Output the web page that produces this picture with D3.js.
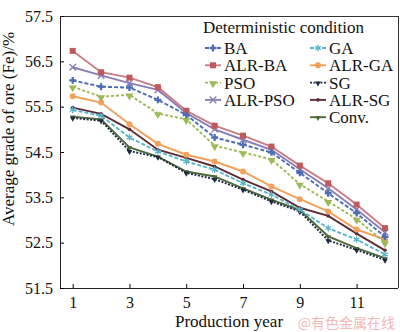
<!DOCTYPE html>
<html><head><meta charset="utf-8">
<script src="https://cdn.jsdelivr.net/npm/d3@7"></script>
<style>body{margin:0;background:#fff}svg{display:block;font-family:"Liberation Serif","Times New Roman",serif}</style>
</head><body>
<svg id="c" width="400" height="332"></svg>
<script>
const years = [1,2,3,4,5,6,7,8,9,10,11,12];
const xTicks = [1,3,5,7,9,11];
const yTicks = [51.5,52.5,53.5,54.5,55.5,56.5,57.5];
const BA     = [56.08,55.94,55.92,55.65,55.32,54.82,54.66,54.49,54.04,53.59,53.15,52.63];
const ALR_BA = [56.73,56.26,56.14,55.93,55.41,55.08,54.86,54.62,54.20,53.81,53.34,52.82];
const PSO    = [55.94,55.72,55.76,55.35,55.22,54.64,54.49,54.34,53.79,53.41,53.02,52.50];
const ALR_PSO= [56.37,56.19,56.02,55.87,55.36,55.00,54.77,54.55,54.12,53.70,53.23,52.73];
const GA     = [55.43,55.30,54.82,54.51,54.29,54.11,53.81,53.56,53.23,52.82,52.57,52.24];
const ALR_GA = [55.73,55.59,55.11,54.68,54.44,54.29,54.07,53.74,53.46,53.19,52.79,52.57];
const SG     = [55.25,55.19,54.52,54.39,54.04,53.90,53.67,53.41,53.19,52.55,52.34,52.12];
const ALR_SG = [55.48,55.34,55.00,54.55,54.37,54.18,53.89,53.63,53.27,53.09,52.70,52.33];
const CONV   = [55.28,55.22,54.60,54.40,54.07,53.96,53.70,53.45,53.22,52.64,52.38,52.16];

const series = [
  {name:"BA", values:BA, color:"#4a6db3", dash:"4,2", marker:"plus"},
  {name:"ALR-BA", values:ALR_BA, color:"#c05a5a", line:"#c97c86", dash:null, marker:"square"},
  {name:"PSO", values:PSO, color:"#9bbb59", dash:"3,2", marker:"triangle"},
  {name:"ALR-PSO", values:ALR_PSO, color:"#8a7db8", dash:null, marker:"cross"},
  {name:"GA", values:GA, color:"#58b4cc", dash:"4,2", marker:"star"},
  {name:"ALR-GA", values:ALR_GA, color:"#f2a05a", dash:null, marker:"circle"},
  {name:"SG", values:SG, color:"#1e2a40", dash:"2,1.5", marker:"smalltri"},
  {name:"ALR-SG", values:ALR_SG, color:"#5e2c36", dash:null, marker:"dot"},
  {name:"Conv.", values:CONV, color:"#4e6a38", dash:null, marker:"smalltri"}
];
const order = ["BA","GA","ALR-BA","ALR-GA","PSO","SG","ALR-PSO","ALR-SG","Conv."];

const svg = d3.select("#c");
const L=60, R=398, T=16, B=288;
const x = d3.scaleLinear().domain([1,12]).range([72.7, 385]);
const y = d3.scaleLinear().domain([51.5,57.5]).range([B, T]);

svg.append("line").attr("x1",L).attr("x2",R).attr("y1",T+0.5).attr("y2",T+0.5).attr("stroke","#333").attr("stroke-width",1);
svg.append("line").attr("x1",R+0.5).attr("x2",R+0.5).attr("y1",T).attr("y2",B).attr("stroke","#333").attr("stroke-width",1);

const xAxis = svg.append("g").attr("transform",`translate(0,${B})`)
  .call(d3.axisBottom(x).tickValues(xTicks).tickSizeInner(-4).tickSizeOuter(0).tickPadding(9).tickFormat(d3.format("d")));
xAxis.select(".domain").attr("d",`M${L},0.5H${R}`).attr("stroke","#222");
xAxis.selectAll("text").attr("font-size",16).attr("fill","#111").attr("font-family","Liberation Serif");
const yAxis = svg.append("g").attr("transform",`translate(${L},0)`)
  .call(d3.axisLeft(y).tickValues(yTicks).tickSizeInner(-4).tickSizeOuter(0).tickPadding(7).tickFormat(d3.format(".1f")));
yAxis.select(".domain").attr("d",`M0.5,${T}V${B}`).attr("stroke","#222");
yAxis.selectAll("text").attr("font-size",16).attr("fill","#111").attr("font-family","Liberation Serif");

svg.append("text").attr("x",229).attr("y",327).attr("text-anchor","middle").attr("font-size",17).attr("fill","#111").text("Production year");
svg.append("text").attr("transform","translate(14,129) rotate(-90)").attr("text-anchor","middle").attr("font-size",17).attr("fill","#111").text("Average grade of ore (Fe)/%");

function drawMarker(g, s, cx, cy) {
  const c = s.color;
  switch (s.marker) {
    case "square": g.append("rect").attr("x",cx-3).attr("y",cy-3).attr("width",6).attr("height",6).attr("fill",c); break;
    case "circle": g.append("circle").attr("cx",cx).attr("cy",cy).attr("r",3).attr("fill",c); break;
    case "triangle": g.append("path").attr("d",d3.symbol(d3.symbolTriangle,28)()).attr("transform",`translate(${cx},${cy+1}) rotate(180)`).attr("fill",c); break;
    case "smalltri": g.append("path").attr("d",d3.symbol(d3.symbolTriangle,14)()).attr("transform",`translate(${cx},${cy+0.5}) rotate(180)`).attr("fill",c); break;
    case "plus": g.append("path").attr("d",d3.symbol(d3.symbolCross,26)()).attr("transform",`translate(${cx},${cy})`).attr("fill",c); break;
    case "cross": g.append("path").attr("d",d3.symbol(d3.symbolX,30)()).attr("transform",`translate(${cx},${cy})`).attr("fill","none").attr("stroke",c).attr("stroke-width",1.4); break;
    case "star": g.append("path").attr("d",d3.symbol(d3.symbolAsterisk,30)()).attr("transform",`translate(${cx},${cy})`).attr("fill","none").attr("stroke",c).attr("stroke-width",1.3); break;
    case "dot": g.append("circle").attr("cx",cx).attr("cy",cy).attr("r",1.8).attr("fill",c); break;
  }
}

const line = d3.line().x((d,i)=>x(years[i])).y(d=>y(d));
const plot = svg.append("g");
[...series].reverse().forEach(s=>{
  const g = plot.append("g");
  g.append("path").attr("d",line(s.values)).attr("fill","none")
    .attr("stroke", s.line || s.color).attr("stroke-width",1.9)
    .attr("stroke-dasharray", s.dash);
  s.values.forEach((v,i)=>drawMarker(g, s, x(years[i]), y(v)));
});

const lg = svg.append("g");
lg.append("text").attr("x",203).attr("y",33).attr("font-size",17).attr("fill","#111").text("Deterministic condition");
order.forEach((nm,i)=>{
  const s = series.find(d=>d.name===nm);
  const col = i%2, row = Math.floor(i/2);
  const rr = nm==="Conv." ? 4 : row;
  const cx = nm==="Conv." ? 310 : (col===0 ? 205 : 310);
  const cy = 48 + rr*17.3;
  const g = lg.append("g");
  g.append("line").attr("x1",cx).attr("x2",cx+16).attr("y1",cy).attr("y2",cy)
    .attr("stroke", s.line || s.color).attr("stroke-width",1.9).attr("stroke-dasharray", s.dash);
  drawMarker(g, s, cx+8, cy);
  g.append("text").attr("x",cx+19).attr("y",cy+6).attr("font-size",17).attr("fill","#111").text(nm);
});

svg.append("text").attr("x",395).attr("y",328).attr("text-anchor","end").attr("font-size",14)
  .attr("font-family","Noto Sans CJK SC").attr("fill","#f3b8b8").text("@有色金属在线");
</script>
</body></html>
